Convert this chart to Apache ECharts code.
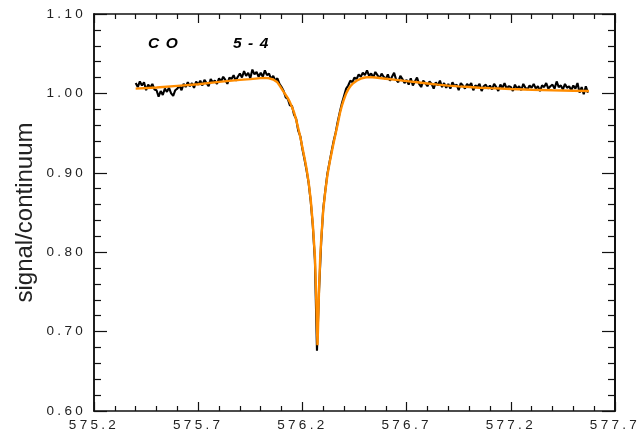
<!DOCTYPE html>
<html><head><meta charset="utf-8">
<script src="https://cdn.jsdelivr.net/npm/echarts@6/dist/echarts.min.js"></script>
<style>
html,body{margin:0;padding:0;background:#fff;}
#chart{width:642px;height:438px;}
</style></head><body><div id="chart"></div>
<script>
// axis
const xAxisOrigin = 575.2;
const xTickLabels = ['575.2','575.7','576.2','576.7','577.2','577.7'];
const yTickLabels = ['0.60','0.70','0.80','0.90','1.00','1.10'];
const yAxisTitle = 'signal/continuum';
const lineLabel = ['CO', '5-4'];

// observed spectrum channel grid (GHz)
const specStart = 575.40;
const specStep = 0.01;
// observed signal/continuum
const observed = [
  1.013, 1.008, 1.015, 1.010, 1.014, 1.004, 1.011, 1.007, 1.012, 1.005,
  1.004, 0.996, 1.003, 0.998, 1.006, 1.002, 1.007, 1.000, 0.997, 1.004,
  1.006, 1.010, 1.004, 1.012, 1.008, 1.014, 1.009, 1.013, 1.007, 1.015,
  1.011, 1.016, 1.010, 1.017, 1.013, 1.009, 1.018, 1.014, 1.016, 1.012,
  1.019, 1.015, 1.021, 1.017, 1.012, 1.020, 1.018, 1.023, 1.016, 1.021,
  1.025, 1.020, 1.028, 1.022, 1.026, 1.019, 1.030, 1.024, 1.027, 1.021,
  1.026, 1.021, 1.029, 1.023, 1.025, 1.018, 1.022, 1.016, 1.019, 1.012,
  1.008, 1.003, 0.995, 0.993, 0.985, 0.984, 0.973, 0.968, 0.953, 0.946,
  0.930, 0.917, 0.903, 0.887, 0.864, 0.833, 0.790, 0.676, 0.752, 0.812,
  0.855, 0.878, 0.899, 0.913, 0.927, 0.940, 0.951, 0.965, 0.977, 0.988,
  0.997, 1.006, 1.010, 1.016, 1.014, 1.020, 1.018, 1.024, 1.021, 1.026,
  1.023, 1.029, 1.022, 1.025, 1.020, 1.027, 1.023, 1.019, 1.025, 1.021,
  1.018, 1.024, 1.016, 1.021, 1.026, 1.017, 1.014, 1.022, 1.018, 1.013,
  1.017, 1.011, 1.019, 1.010, 1.015, 1.020, 1.012, 1.008, 1.016, 1.013,
  1.009, 1.015, 1.012, 1.006, 1.014, 1.010, 1.016, 1.008, 1.013, 1.007,
  1.012, 1.006, 1.014, 1.009, 1.011, 1.004, 1.013, 1.010, 1.006, 1.012,
  1.009, 1.013, 1.004, 1.010, 1.008, 1.012, 1.003, 1.009, 1.011, 1.006,
  1.010, 1.005, 1.012, 1.008, 1.003, 1.011, 1.007, 1.013, 1.006, 1.009,
  1.008, 1.003, 1.011, 1.006, 1.009, 1.004, 1.012, 1.007, 1.005, 1.010,
  1.007, 1.012, 1.006, 1.009, 1.003, 1.010, 1.008, 1.013, 1.006, 1.009,
  1.011, 1.006, 1.015, 1.008, 1.010, 1.005, 1.012, 1.007, 1.009, 1.004,
  1.010, 1.006, 1.013, 1.001, 1.008, 0.999, 1.009, 1.001
];

// model fit
const fitFreq = [
  575.40, 575.50, 575.60, 575.70, 575.80, 575.90, 575.95, 576.00, 576.02, 576.04,
  576.06, 576.08, 576.09, 576.10, 576.11, 576.12, 576.13, 576.14, 576.15, 576.16,
  576.17, 576.18, 576.19, 576.20, 576.21, 576.22, 576.23, 576.24, 576.25, 576.26,
  576.265, 576.27, 576.2725, 576.275, 576.28, 576.285, 576.29, 576.30, 576.31, 576.32,
  576.33, 576.34, 576.35, 576.36, 576.37, 576.38, 576.39, 576.40, 576.41, 576.42,
  576.43, 576.44, 576.46, 576.48, 576.50, 576.52, 576.55, 576.60, 576.65, 576.70,
  576.75, 576.80, 576.85, 576.90, 576.95, 577.00, 577.05, 577.10, 577.20, 577.30,
  577.40, 577.50, 577.575
];
const fitValue = [
  1.0060, 1.0075, 1.0095, 1.0115, 1.0145, 1.0170, 1.0180, 1.0192, 1.0195, 1.0190,
  1.0175, 1.0140, 1.0100, 1.0060, 1.0020, 0.9980, 0.9940, 0.9890, 0.9830, 0.9760,
  0.9670, 0.9560, 0.9450, 0.9320, 0.9190, 0.9050, 0.8880, 0.8660, 0.8350, 0.7950,
  0.7550, 0.7050, 0.6830, 0.7050, 0.7550, 0.7900, 0.8150, 0.8530, 0.8770, 0.8970,
  0.9120, 0.9250, 0.9380, 0.9500, 0.9620, 0.9750, 0.9850, 0.9930, 1.0000, 1.0050,
  1.0090, 1.0120, 1.0160, 1.0185, 1.0200, 1.0205, 1.0200, 1.0185, 1.0170, 1.0155,
  1.0140, 1.0125, 1.0110, 1.0098, 1.0088, 1.0080, 1.0072, 1.0066, 1.0055, 1.0046,
  1.0039, 1.0034, 1.0030
];

const obsData = observed.map((v, i) => [specStart + i * specStep - xAxisOrigin, v]);
const fitData = fitFreq.map((f, i) => [f - xAxisOrigin, fitValue[i]]);

// wide letter spacing of the original figure's lettering
(function () {
  const proto = CanvasRenderingContext2D.prototype;
  const origFill = proto.fillText;
  proto.fillText = function (t, x, y, w) {
    const f = this.font || '';
    let ls = '0px';
    if (f.indexOf('italic') >= 0) ls = '6.5px';
    else if (f.indexOf('13.5px') >= 0) ls = '3.3px';
    const prev = this.letterSpacing;
    if (prev !== undefined) this.letterSpacing = ls;
    const r = (w === undefined) ? origFill.call(this, t, x, y) : origFill.call(this, t, x, y, w);
    if (prev !== undefined) this.letterSpacing = prev;
    return r;
  };
})();

const FONT = 'Liberation Sans';
const axisColor = '#111';
const labelColor = '#222';

function xAxisCfg(pos, showLabel) {
  return {
    type: 'value', position: pos, min: 0, max: 2.5, interval: 0.5,
    axisLine: { show: true, onZero: false, lineStyle: { color: axisColor, width: 1.5 } },
    axisTick: { show: true, inside: true, length: 9, lineStyle: { color: axisColor, width: 1.2 } },
    minorTick: { show: true, splitNumber: 5, length: 5, lineStyle: { color: axisColor, width: 1.2 } },
    splitLine: { show: false }, minorSplitLine: { show: false },
    axisLabel: {
      show: showLabel, margin: 7, fontSize: 13.5, fontFamily: FONT, color: labelColor,
      formatter: v => xTickLabels[Math.round(v / 0.5)]
    }
  };
}
function yAxisCfg(pos, showLabel, showTicks) {
  const c = {
    type: 'value', position: pos, min: 0.6, max: 1.1, interval: 0.1,
    axisLine: { show: true, onZero: false, lineStyle: { color: axisColor, width: pos === 'right' ? 2 : 1.5 } },
    axisTick: { show: showTicks, inside: true, length: 13, lineStyle: { color: axisColor, width: 1.2 } },
    minorTick: { show: showTicks, splitNumber: 5, length: 7, lineStyle: { color: axisColor, width: 1.2 } },
    splitLine: { show: false }, minorSplitLine: { show: false },
    axisLabel: {
      show: showLabel, margin: 8, fontSize: 13.5, fontFamily: FONT, color: labelColor,
      formatter: v => yTickLabels[Math.round((v - 0.6) / 0.1)]
    }
  };
  if (showLabel) {
    c.name = yAxisTitle;
    c.nameLocation = 'middle';
    c.nameRotate = 90;
    c.nameGap = 57;
    c.nameTextStyle = { fontSize: 24, fontFamily: FONT, color: '#222' };
  }
  return c;
}

const chart = echarts.init(document.getElementById('chart'), null, { renderer: 'canvas' });
chart.setOption({
  animation: false,
  backgroundColor: '#fff',
  grid: { left: 94, right: 27, top: 14, bottom: 27, containLabel: false, outerBoundsMode: 'none' },
  xAxis: [xAxisCfg('bottom', true), xAxisCfg('top', false)],
  yAxis: [yAxisCfg('left', true, false), yAxisCfg('right', false, true), yAxisCfg('left', false, true)],
  graphic: [
    { type: 'text', left: 148, top: 36, style: { text: lineLabel[0], font: 'italic bold 15.5px "Liberation Sans"', fill: '#000' } },
    { type: 'text', left: 233, top: 36, style: { text: lineLabel[1], font: 'italic bold 15.5px "Liberation Sans"', fill: '#000' } }
  ],
  series: [
    { type: 'line', xAxisIndex: 0, yAxisIndex: 0, data: obsData, showSymbol: false, symbol: 'none',
      lineStyle: { color: '#000', width: 2.1 }, z: 2 },
    { type: 'line', xAxisIndex: 0, yAxisIndex: 0, data: fitData, showSymbol: false, symbol: 'none',
      lineStyle: { color: '#ff8c00', width: 2.4 }, z: 3 }
  ]
});
</script></body></html>
